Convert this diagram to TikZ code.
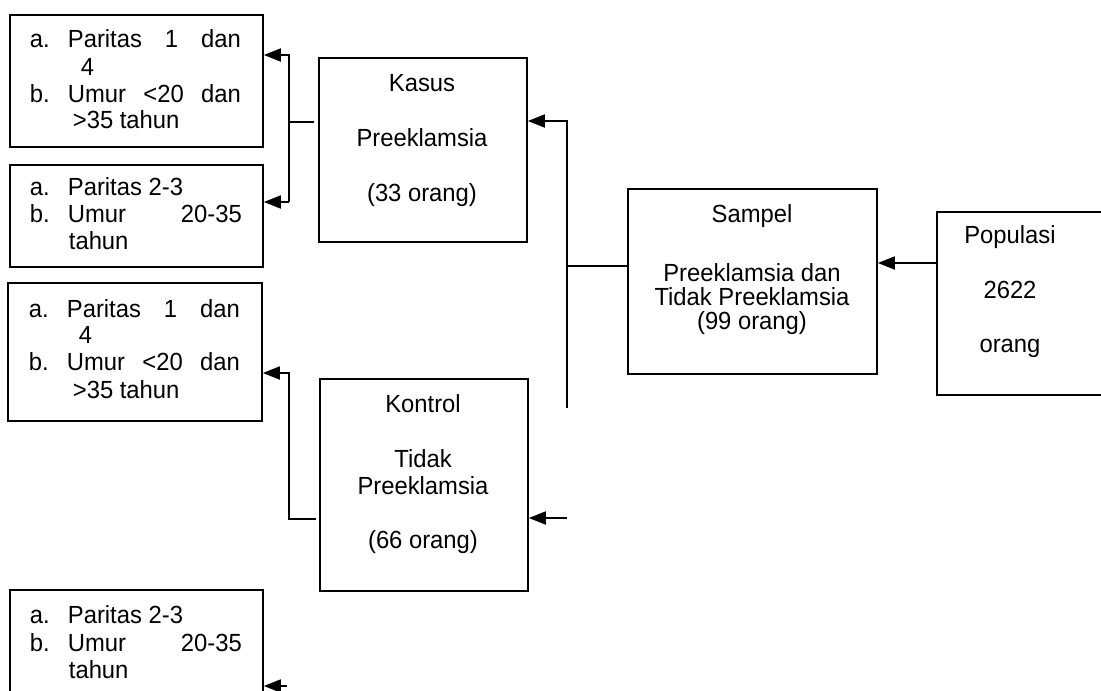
\documentclass[tikz,border=0pt]{standalone}
\usepackage{fontspec}
\setmainfont{Liberation Sans}[FakeStretch=0.96]
\usetikzlibrary{arrows.meta}
\newcommand\txtbig{\fontsize{24.8}{28}\selectfont}
\newcommand\txtsmall{\fontsize{24.8}{28}\selectfont}
\begin{document}
\begin{tikzpicture}[x=1pt,y=-1pt, line width=1.8pt,
  box/.style={draw, anchor=north west, inner sep=0pt, line width=1.8pt},
  ct/.style={font=\txtbig, anchor=base, inner sep=0pt},
  lt/.style={font=\txtsmall, anchor=base west, inner sep=0pt},
  arr/.style={-{Triangle[length=17pt,width=13pt]}}]
\useasboundingbox (0,0) rectangle (1101,691);
\clip (0,0) rectangle (1101,691);
\fill[white] (0,0) rectangle (1101,691);

% boxes
\node[box, minimum width=253pt, minimum height=132pt] (a1) at (9,14) {};
\node[box, minimum width=253pt, minimum height=102pt] (a2) at (9,164) {};
\node[box, minimum width=254pt, minimum height=138pt] (a3) at (7,282) {};
\node[box, minimum width=253pt, minimum height=130pt] (a4) at (9,589) {};
\node[box, minimum width=208pt, minimum height=184pt] (kasus) at (318,57) {};
\node[box, minimum width=208pt, minimum height=212pt] (kontrol) at (319,378) {};
\node[box, minimum width=249pt, minimum height=185pt] (sampel) at (627,188) {};
\node[box, minimum width=180pt, minimum height=183pt] (populasi) at (936,211) {};

% left box texts
\node[lt] (a1l1) at (29,47) {\makebox[38pt][l]{a.}\makebox[173pt][s]{Paritas 1 dan}};
\node[lt] (a1l2) at (80,75) {4};
\node[lt] (a1l3) at (29,102) {\makebox[38pt][l]{b.}\makebox[173pt][s]{Umur <20 dan}};
\node[lt] (a1l4) at (72,128) {>35 tahun};

\node[lt] (a2l1) at (29,195) {\makebox[38pt][l]{a.}Paritas 2-3};
\node[lt] (a2l2) at (29,222) {\makebox[38pt][l]{b.}\makebox[174pt][s]{Umur 20-35}};
\node[lt] (a2l3) at (68,249) {tahun};

\node[lt] (a3l1) at (28,317) {\makebox[38pt][l]{a.}\makebox[173pt][s]{Paritas 1 dan}};
\node[lt] (a3l2) at (78,343) {4};
\node[lt] (a3l3) at (28,370) {\makebox[38pt][l]{b.}\makebox[173pt][s]{Umur <20 dan}};
\node[lt] (a3l4) at (72,398) {>35 tahun};

\node[lt] (a4l1) at (29,623) {\makebox[38pt][l]{a.}Paritas 2-3};
\node[lt] (a4l2) at (29,651) {\makebox[38pt][l]{b.}\makebox[174pt][s]{Umur 20-35}};
\node[lt] (a4l3) at (68,678) {tahun};

% centre box texts
\node[ct] (kas1) at (422,91) {Kasus};
\node[ct] (kas2) at (422,146) {Preeklamsia};
\node[ct] (kas3) at (422,201) {(33 orang)};

\node[ct] (kon1) at (423,412) {Kontrol};
\node[ct] (kon2) at (423,467) {Tidak};
\node[ct] (kon3) at (423,494) {Preeklamsia};
\node[ct] (kon4) at (423,548) {(66 orang)};

\node[ct] (sam1) at (752,222) {Sampel};
\node[ct] (sam2) at (752,281) {Preeklamsia dan};
\node[ct] (sam3) at (752,305) {Tidak Preeklamsia};
\node[ct] (sam4) at (752,329) {(99 orang)};

\node[ct] (pop1) at (1010,243) {Populasi};
\node[ct] (pop2) at (1010,298) {2622};
\node[ct] (pop3) at (1010,352) {orang};

% connector points
\coordinate (j1t) at (289,55);
\coordinate (j1m) at (289,122);
\coordinate (j1b) at (289,202);
\coordinate (j2t) at (289,373);
\coordinate (j2b) at (289,519);
\coordinate (j3t) at (567,121);
\coordinate (j3m) at (567,266);
\coordinate (j3b) at (567,408);
\coordinate (f1) at (567,518);
\coordinate (f2) at (287,686);
\coordinate (pa) at (900,263);

% connectors
\draw ([xshift=-4pt]kasus.west |- j1m) -- (j1m);
\draw[arr] (j1b) -- (j1t) -- (a1.east |- j1t);
\draw[arr] (j1b) -- (a2.east |- j1b);
\draw[arr] ([xshift=-3pt]kontrol.west |- j2b) -- (j2b) -- (j2t) -- (a3.east |- j2t);
\draw (sampel.west |- j3m) -- (j3m);
\draw[arr] (j3b) -- (j3t) -- (kasus.east |- j3t);
\draw[arr] (f1) -- (kontrol.east |- f1);
\draw[arr] (populasi.west |- pa) -- (sampel.east |- pa);
\draw[arr] (f2) -- (a4.east |- f2);
\end{tikzpicture}
\end{document}
